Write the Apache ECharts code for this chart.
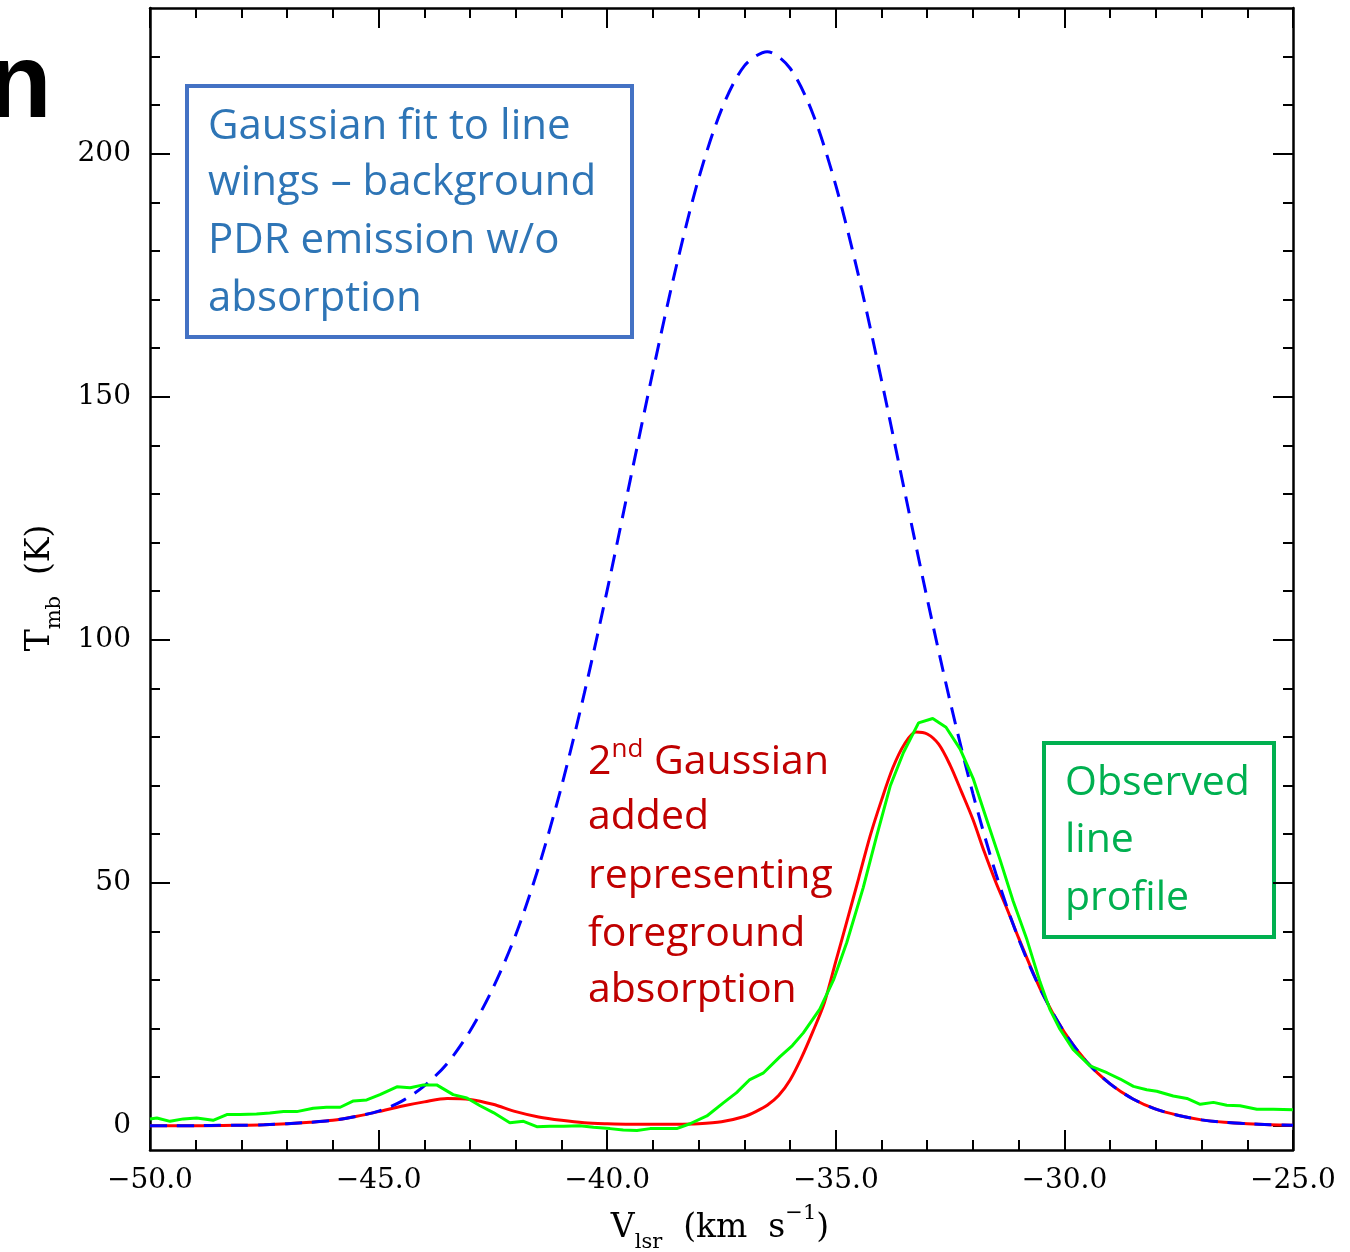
<!DOCTYPE html>
<html>
<head>
<meta charset="utf-8">
<script src="https://cdn.jsdelivr.net/npm/echarts@6/dist/echarts.min.js"></script>
<style>
html,body{margin:0;padding:0;background:#fff;}
#c{width:1350px;height:1252px;}
</style>
</head>
<body>
<div id="c"></div>
<script>
// ---- Data ----
// Gaussian fit to line wings (blue dashed), velocity grid (km/s)
const blueV = [-50,-49.5,-49,-48.5,-48,-47.5,-47,-46.5,-46,-45.5,-45,-44.5,-44,-43.5,-43,-42.5,-42,-41.5,-41,-40.5,-40,-39.5,-39,-38.5,-38,-37.5,-37,-36.5,-36,-35.5,-35,-34.5,-34,-33.5,-33,-32.5,-32,-31.5,-31,-30.5,-30,-29.5,-29,-28.5,-28,-27.5,-27,-26.5,-26,-25.5,-25];
const blueT = [0,0,0,0.1,0.1,0.2,0.4,0.7,1.1,1.9,3.0,5.0,8.2,12.8,19.5,28.3,39.3,53.2,69.8,89.0,110.2,132.7,155.2,176.4,194.9,209.1,218.1,221.0,217.6,208.2,193.5,174.8,153.4,130.8,108.4,87.3,68.3,51.9,38.4,27.6,19.2,13.0,8.6,5.5,3.4,2.1,1.2,0.7,0.4,0.2,0.1];

// Fit with 2nd (absorbing) Gaussian added (red)
const redV = [-50,-49,-48,-47.5,-47,-46.5,-46,-45.5,-45,-44.5,-44,-43.5,-43,-42.5,-42,-41.5,-41,-40.5,-40,-39.5,-39,-38.5,-38,-37.5,-37,-36.75,-36.5,-36.25,-36,-35.75,-35.5,-35.25,-35,-34.75,-34.5,-34.25,-34,-33.75,-33.5,-33.25,-33,-32.75,-32.5,-32.25,-32,-31.75,-31.5,-31.25,-31,-30.5,-30,-29.5,-29,-28.5,-28,-27.5,-27,-26.5,-26,-25.5,-25];
const redT = [0,0,0.1,0.2,0.4,0.7,1.1,1.9,2.9,4.0,4.9,5.6,5.4,4.4,2.9,1.8,1.1,0.6,0.4,0.3,0.3,0.3,0.4,0.8,1.9,2.9,4.2,6.2,9.4,14.0,19.4,25.3,33.8,42.3,50.9,59.6,67.0,73.7,78.5,81.0,80.6,78.5,74.2,68.7,63.0,56.3,50.1,44.5,38.6,27.6,19.2,13.0,8.6,5.5,3.4,2.1,1.2,0.7,0.4,0.2,0.1];

// Observed line profile (green)
const greenV = [-50.0,-49.85,-49.56,-49.27,-48.98,-48.62,-48.32,-48.03,-47.67,-47.38,-47.08,-46.79,-46.43,-46.14,-45.84,-45.55,-45.26,-44.97,-44.6,-44.31,-44.02,-43.73,-43.37,-43.07,-42.78,-42.49,-42.13,-41.83,-41.54,-41.25,-40.95,-40.6,-40.3,-39.94,-39.65,-39.35,-39.06,-38.77,-38.48,-38.19,-37.82,-37.46,-37.17,-36.88,-36.59,-36.22,-35.95,-35.71,-35.35,-35.05,-34.76,-34.40,-34.11,-33.81,-33.52,-33.19,-32.88,-32.59,-32.28,-31.99,-31.70,-31.41,-31.12,-30.82,-30.53,-30.32,-30.10,-29.81,-29.44,-29.07,-28.78,-28.49,-28.20,-27.98,-27.62,-27.32,-27.03,-26.74,-26.45,-26.16,-25.79,-25.43,-25.0];
const greenT = [1.4,1.6,0.9,1.4,1.6,1.1,2.3,2.3,2.4,2.6,2.9,2.9,3.6,3.8,3.8,5.1,5.3,6.4,8.0,7.8,8.4,8.4,6.4,5.7,4.1,2.7,0.6,0.9,-0.2,-0.1,-0.1,0.0,-0.3,-0.6,-0.9,-1.0,-0.6,-0.6,-0.6,0.4,2.0,4.7,6.8,9.5,10.8,14.2,16.5,19.1,24.0,30.0,37.7,49.0,59.5,69.9,76.8,82.9,83.8,82.0,77.5,71.3,63.0,54.8,46.2,38.3,29.5,24.0,19.9,15.7,12.3,10.9,9.6,8.1,7.4,7.1,6.1,5.6,4.4,4.8,4.2,4.1,3.4,3.4,3.3];

// Axis ticks
const yMajor = [0,50,100,150,200];
const yMinor = [10,20,30,40,60,70,80,90,110,120,130,140,160,170,180,190,210,220];

const zip = (a,b) => a.map((v,i)=>[v,b[i]]);

const chart = echarts.init(document.getElementById('c'), null, {renderer:'canvas', width:1350, height:1252});

const tickFont = 'DejaVu Serif';
const axLine = {show:true, onZero:false, lineStyle:{color:'#000', width:2.5}};
const majTick = {show:true, inside:true, length:20, lineStyle:{color:'#000', width:2}};
const minTick = {show:true, splitNumber:5, length:10, lineStyle:{color:'#000', width:2}};
const xFmt = v => (v<0?'\u2212':'') + Math.abs(v).toFixed(1);

const xBase = {type:'value', min:-50, max:-25, interval:5, splitLine:{show:false}, minorSplitLine:{show:false}};
const yBase = {type:'value', min:-5, max:230, splitLine:{show:false}, minorSplitLine:{show:false}};

const annFont = 'Open Sans';
const bf = '42px "'+annFont+'"';
const rf = '41px "'+annFont+'"';
const option = {
  animation:false,
  backgroundColor:'#fff',
  grid:{left:150, right:57, top:8, bottom:102, containLabel:false},
  xAxis:[
    Object.assign({}, xBase, {position:'bottom', axisLine:axLine, axisTick:majTick, minorTick:minTick,
      axisLabel:{show:true, formatter:xFmt, fontFamily:tickFont, fontSize:28, color:'#000', margin:17}}),
    Object.assign({}, xBase, {position:'top', axisLine:axLine, axisTick:majTick, minorTick:minTick, axisLabel:{show:false}})
  ],
  yAxis:[
    Object.assign({}, yBase, {position:'left', axisLine:axLine,
      axisTick:Object.assign({}, majTick, {customValues:yMajor}),
      axisLabel:{show:true, customValues:yMajor, fontFamily:tickFont, fontSize:28, color:'#000', margin:19}}),
    Object.assign({}, yBase, {position:'left', axisLine:{show:false},
      axisTick:{show:true, inside:true, length:10, customValues:yMinor, lineStyle:{color:'#000', width:2}}, axisLabel:{show:false}}),
    Object.assign({}, yBase, {position:'right', axisLine:axLine,
      axisTick:Object.assign({}, majTick, {customValues:yMajor}), axisLabel:{show:false}}),
    Object.assign({}, yBase, {position:'right', axisLine:{show:false},
      axisTick:{show:true, inside:true, length:10, customValues:yMinor, lineStyle:{color:'#000', width:2}}, axisLabel:{show:false}})
  ],
  series:[
    {name:'fit2', type:'line', xAxisIndex:0, yAxisIndex:0, data:zip(redV, redT), showSymbol:false, smooth:0.3,
     lineStyle:{color:'#ff0000', width:3}, z:2},
    {name:'fit1', type:'line', xAxisIndex:0, yAxisIndex:0, data:zip(blueV, blueT), showSymbol:false, smooth:0.3,
     lineStyle:{color:'#0000ff', width:3, type:[17,10]}, z:3},
    {name:'obs', type:'line', xAxisIndex:0, yAxisIndex:0, data:zip(greenV, greenT), showSymbol:false, smooth:false,
     lineStyle:{color:'#00ff00', width:3}, z:4}
  ],
  graphic:[
    // partial panel letter
    {type:'text', x:-13, y:88, style:{text:'n', font:'bold 106px "Liberation Sans"', fill:'#000', verticalAlign:'middle'}},
    // axis titles
    {type:'text', x:720, y:1228, style:{
      text:'{v|V}{s|lsr}{v|  (km  s}{p|\u22121}{v|)}', align:'center', verticalAlign:'middle',
      rich:{
        v:{fontFamily:tickFont, fontSize:33, lineHeight:50, verticalAlign:'middle', fill:'#000'},
        s:{fontFamily:tickFont, fontSize:21, lineHeight:21, verticalAlign:'bottom', fill:'#000'},
        p:{fontFamily:tickFont, fontSize:21, lineHeight:21, verticalAlign:'top', fill:'#000'}
      }}},
    {type:'text', x:40, y:588, rotation:Math.PI/2, style:{
      text:'{v|T}{s|mb}{v|  (K)}', align:'center', verticalAlign:'middle',
      rich:{
        v:{fontFamily:tickFont, fontSize:33, lineHeight:50, verticalAlign:'middle', fill:'#000'},
        s:{fontFamily:tickFont, fontSize:21, lineHeight:21, verticalAlign:'bottom', fill:'#000'}
      }}},
    // blue annotation box
    {type:'rect', shape:{x:187, y:86, width:445, height:251}, style:{fill:'none', stroke:'#4472C4', lineWidth:4}},
    {type:'text', x:208, y:127, style:{text:'Gaussian fit to line', font:bf, fill:'#2E75B6', verticalAlign:'middle'}},
    {type:'text', x:208, y:183, style:{text:'wings \u2013 background', font:bf, fill:'#2E75B6', verticalAlign:'middle'}},
    {type:'text', x:208, y:241, style:{text:'PDR emission w/o', font:bf, fill:'#2E75B6', verticalAlign:'middle'}},
    {type:'text', x:208, y:299, style:{text:'absorption', font:bf, fill:'#2E75B6', verticalAlign:'middle'}},
    // red annotation
    {type:'text', x:588, y:762, style:{text:'{n|2}{s|nd}{n| Gaussian}', verticalAlign:'middle',
      rich:{ n:{fontFamily:annFont, fontSize:41, lineHeight:50, verticalAlign:'middle', fill:'#C00000'},
             s:{fontFamily:annFont, fontSize:26, lineHeight:26, verticalAlign:'top', fill:'#C00000'} }}},
    {type:'text', x:588, y:817, style:{text:'added', font:rf, fill:'#C00000', verticalAlign:'middle'}},
    {type:'text', x:588, y:876, style:{text:'representing', font:rf, fill:'#C00000', verticalAlign:'middle'}},
    {type:'text', x:588, y:934, style:{text:'foreground', font:rf, fill:'#C00000', verticalAlign:'middle'}},
    {type:'text', x:588, y:990, style:{text:'absorption', font:rf, fill:'#C00000', verticalAlign:'middle'}},
    // green annotation box
    {type:'rect', shape:{x:1044, y:743, width:230, height:194}, style:{fill:'none', stroke:'#00B050', lineWidth:4}},
    {type:'text', x:1065, y:783, style:{text:'Observed', font:rf, fill:'#00B050', verticalAlign:'middle'}},
    {type:'text', x:1065, y:840, style:{text:'line', font:rf, fill:'#00B050', verticalAlign:'middle'}},
    {type:'text', x:1065, y:898, style:{text:'profile', font:rf, fill:'#00B050', verticalAlign:'middle'}}
  ]
};
chart.setOption(option);
</script>
</body>
</html>
